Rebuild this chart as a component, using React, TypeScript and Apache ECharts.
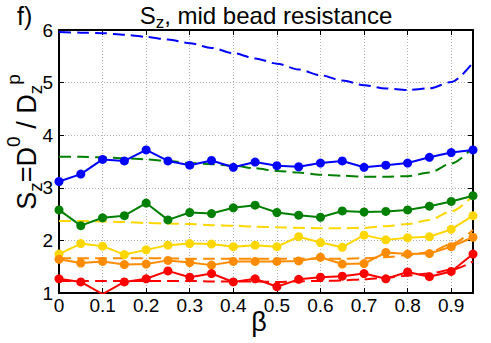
import React, { useEffect, useRef } from 'react';
import * as echarts from 'echarts';

const beta = [0, 0.05, 0.1, 0.15, 0.2, 0.25, 0.3, 0.35, 0.4, 0.45, 0.5, 0.55, 0.6, 0.65, 0.7, 0.75, 0.8, 0.85, 0.9, 0.95];

const blueSim = [3.12, 3.26, 3.54, 3.51, 3.72, 3.51, 3.43, 3.52, 3.39, 3.49, 3.42, 3.40, 3.47, 3.51, 3.39, 3.43, 3.47, 3.58, 3.67, 3.72];
const greenSim = [2.58, 2.28, 2.43, 2.47, 2.71, 2.39, 2.53, 2.51, 2.62, 2.67, 2.53, 2.48, 2.44, 2.56, 2.54, 2.55, 2.58, 2.65, 2.74, 2.85];
const yellowSim = [1.74, 1.94, 1.89, 1.73, 1.82, 1.91, 1.94, 1.93, 1.88, 1.91, 1.88, 2.07, 1.96, 1.87, 2.10, 2.01, 2.05, 2.07, 2.21, 2.47];
const orangeSim = [1.64, 1.57, 1.60, 1.54, 1.55, 1.62, 1.58, 1.53, 1.60, 1.60, 1.60, 1.61, 1.68, 1.55, 1.56, 1.77, 1.74, 1.75, 1.88, 2.06];
const redSim = [1.27, 1.21, 0.98, 1.21, 1.27, 1.42, 1.30, 1.37, 1.21, 1.27, 1.12, 1.26, 1.30, 1.32, 1.37, 1.27, 1.40, 1.31, 1.41, 1.74];

const blueModel = [5.96, 5.95, 5.94, 5.91, 5.87, 5.82, 5.75, 5.66, 5.56, 5.46, 5.36, 5.25, 5.14, 5.04, 4.95, 4.89, 4.86, 4.89, 5.01, 5.38];
const greenModel = [3.59, 3.59, 3.58, 3.56, 3.54, 3.51, 3.47, 3.45, 3.42, 3.37, 3.32, 3.29, 3.25, 3.23, 3.21, 3.21, 3.22, 3.29, 3.46, 3.77];
const yellowModel = [2.37, 2.37, 2.36, 2.35, 2.33, 2.32, 2.31, 2.29, 2.28, 2.26, 2.25, 2.24, 2.23, 2.23, 2.24, 2.27, 2.31, 2.39, 2.55, 2.85];
const orangeModel = [1.66, 1.66, 1.66, 1.66, 1.66, 1.66, 1.65, 1.65, 1.65, 1.65, 1.65, 1.65, 1.65, 1.65, 1.66, 1.68, 1.72, 1.78, 1.93, 2.2];
const redModel = [1.23, 1.23, 1.23, 1.23, 1.23, 1.23, 1.23, 1.22, 1.22, 1.22, 1.21, 1.22, 1.23, 1.24, 1.26, 1.29, 1.33, 1.37, 1.44, 1.6];

const xTicks = [0, 0.1, 0.2, 0.3, 0.4, 0.5, 0.6, 0.7, 0.8, 0.9];
const yTicks = [1, 2, 3, 4, 5, 6];

const colors = {
  blue: '#0000ff',
  green: '#008000',
  yellow: '#ffd700',
  orange: '#ff8c00',
  red: '#ff0000',
};

const FONT = 'Liberation Sans';

function measure(text: string, size: number): number {
  const ctx = document.createElement('canvas').getContext('2d');
  if (!ctx) return text.length * size * 0.55;
  ctx.font = `${size}px "${FONT}"`;
  return ctx.measureText(text).width;
}

type Piece = { t: string; size: number; dy: number };

function buildPieces(pieces: Piece[]) {
  const widths = pieces.map((p) => measure(p.t, p.size));
  const total = widths.reduce((a, b) => a + b, 0);
  let x = -total / 2;
  const children = pieces.map((p, i) => {
    const el = {
      type: 'text',
      x,
      y: p.dy,
      style: {
        text: p.t,
        font: `${p.size}px "${FONT}"`,
        fill: '#000',
        align: 'left',
        verticalAlign: 'middle',
      },
    };
    x += widths[i];
    return el;
  });
  return children;
}

function pairs(vals: number[]) {
  return beta.map((b, i) => [b, vals[i]]);
}

export default function App() {
  const ref = useRef<HTMLDivElement>(null);
  useEffect(() => {
    document.body.style.margin = '0';
    if (!ref.current) return;
    const chart = echarts.init(ref.current, null, { renderer: 'svg' });

    const simSeries = (name: string, vals: number[], color: string) => ({
      name,
      type: 'line',
      data: pairs(vals),
      symbol: 'circle',
      symbolSize: 9,
      showSymbol: true,
      lineStyle: { color, width: 2 },
      itemStyle: { color },
      z: 3,
    });
    const modelSeries = (name: string, vals: number[], color: string) => ({
      name,
      type: 'line',
      data: pairs(vals),
      symbol: 'none',
      smooth: 0.3,
      smoothMonotone: 'x',
      lineStyle: { color, width: 2, type: [12, 6] },
      z: 2,
    });

    const axisCommon = {
      type: 'value',
      axisLine: { show: true, onZero: false, lineStyle: { color: '#000', width: 2 } },
      axisTick: { show: true, inside: true, length: 5, lineStyle: { color: '#000', width: 1 } },
    };

    const titlePieces = buildPieces([
      { t: 'S', size: 24, dy: 0 },
      { t: 'z', size: 17, dy: 7 },
      { t: ', mid bead resistance', size: 24, dy: 0 },
    ]);
    const ylabPieces = buildPieces([
      { t: 'S', size: 27, dy: 0 },
      { t: 'z', size: 19, dy: 8 },
      { t: '=D', size: 27, dy: 0 },
      { t: '0', size: 19, dy: -14 },
      { t: ' / D', size: 27, dy: 0 },
      { t: 'z', size: 19, dy: 8 },
      { t: 'p', size: 19, dy: -14 },
    ]);

    chart.setOption({
      animation: false,
      backgroundColor: '#fff',
      grid: { left: 59, right: 18, top: 30, bottom: 50, outerBoundsMode: 'none', show: false },
      xAxis: [
        {
          ...axisCommon,
          position: 'bottom',
          min: 0,
          max: 0.95,
          interval: 0.1,
          axisLabel: {
            show: true,
            margin: 3,
            fontSize: 19,
            fontFamily: FONT,
            color: '#000',
            showMaxLabel: false,
            formatter: (v: number) => {
              const t = xTicks.find((k) => Math.abs(k - v) < 1e-6);
              return t === undefined ? '' : String(t);
            },
          },
          splitLine: { show: true, lineStyle: { color: '#b0b0b0', type: [1, 2], width: 1 } },
        },
        {
          ...axisCommon,
          position: 'top',
          min: 0,
          max: 0.95,
          interval: 0.1,
          axisLabel: { show: false },
          splitLine: { show: false },
        },
      ],
      yAxis: [
        {
          ...axisCommon,
          position: 'left',
          min: 1,
          max: 6,
          interval: 1,
          axisLabel: {
            show: true,
            margin: 6,
            fontSize: 19,
            fontFamily: FONT,
            color: '#000',
            formatter: (v: number) => {
              const t = yTicks.find((k) => Math.abs(k - v) < 1e-6);
              return t === undefined ? '' : String(t);
            },
          },
          splitLine: { show: true, lineStyle: { color: '#b0b0b0', type: [1, 2], width: 1 } },
        },
        {
          ...axisCommon,
          position: 'right',
          min: 1,
          max: 6,
          interval: 1,
          axisLabel: { show: false },
          splitLine: { show: false },
        },
      ],
      series: [
        modelSeries('blue model', blueModel, colors.blue),
        modelSeries('green model', greenModel, colors.green),
        modelSeries('yellow model', yellowModel, colors.yellow),
        modelSeries('orange model', orangeModel, colors.orange),
        modelSeries('red model', redModel, colors.red),
        simSeries('blue', blueSim, colors.blue),
        simSeries('green', greenSim, colors.green),
        simSeries('yellow', yellowSim, colors.yellow),
        simSeries('orange', orangeSim, colors.orange),
        simSeries('red', redSim, colors.red),
      ],
      graphic: [
        {
          type: 'text',
          left: 17,
          top: 3,
          style: { text: 'f)', font: `25px "${FONT}"`, fill: '#000' },
        },
        {
          type: 'group',
          x: 266,
          y: 15,
          children: titlePieces,
        },
        {
          type: 'group',
          x: 27,
          y: 142,
          rotation: Math.PI / 2,
          children: ylabPieces,
        },
        {
          type: 'text',
          x: 259,
          y: 322,
          style: { text: 'β', font: `27px "${FONT}"`, fill: '#000', align: 'center', verticalAlign: 'middle' },
        },
      ],
    });
    return () => chart.dispose();
  }, []);
  return <div ref={ref} style={{ width: 491, height: 343 }} />;
}
